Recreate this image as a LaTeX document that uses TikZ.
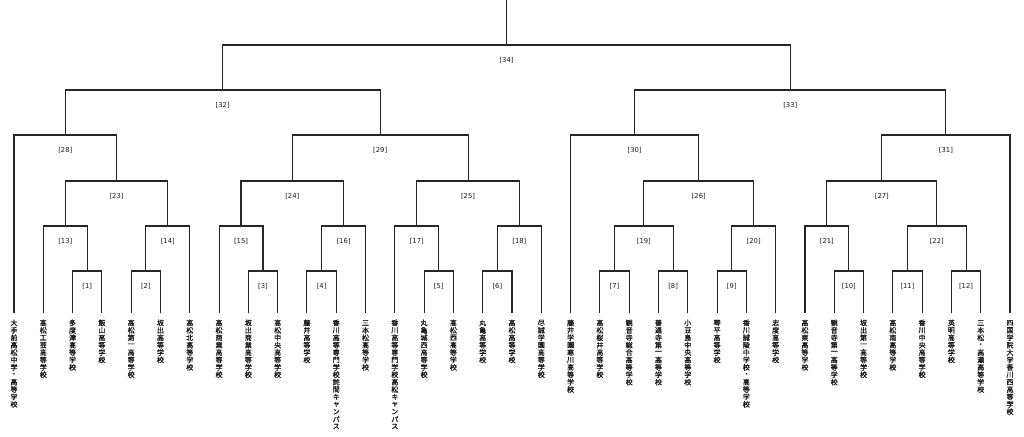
\documentclass[tikz,border=0pt]{standalone}
\usepackage{fontspec}
\usetikzlibrary{calc}
\newfontfamily\jpfont[FakeBold=1.2]{Noto Sans CJK JP}
\newfontfamily\latfont{DejaVu Sans}
\ExplSyntaxOn
\NewDocumentCommand\vtext{m}{
  \vbox{\offinterlineskip
    \tl_map_inline:nn {#1} {\hbox to 8pt{\hss\vbox to 7.4pt{\vss\hbox{##1}\vss}\hss}}
  }
}
\ExplSyntaxOff
\tikzset{
  bracketline/.style={draw=black!85, line width=1.1pt},
  team/.style={anchor=north, inner sep=0pt, text=black!90, font=\jpfont\fontsize{7}{7.4}\selectfont},
  lbl/.style={inner sep=0pt, text=black!90, font=\latfont\fontsize{6.8}{7}\selectfont}
}
\newcommand\leaf[2]{%
  \coordinate (p#1) at ({14+#1*29.294},-313);
  \node[team] (t#1) at ({14+#1*29.294},-319) {\vtext{#2}};
}
\newcommand\match[5]{%
  \path let \p1=(#2), \p2=(#3) in coordinate (#1) at ({(\x1+\x2)/2},-#4pt);
  \draw[bracketline] (#2) |- (#1) -| (#3);
  \node[lbl] (l#1) at ([yshift=-15pt]#1) {[#5]};
}
\begin{document}
\begin{tikzpicture}[x=1pt,y=1pt]
\useasboundingbox (0,0) rectangle (1024,-436);
\leaf{0}{大手前高松中学・高等学校}
\leaf{1}{高松工芸高等学校}
\leaf{2}{多度津高等学校}
\leaf{3}{飯山高等学校}
\leaf{4}{高松第一高等学校}
\leaf{5}{坂出高等学校}
\leaf{6}{高松北高等学校}
\leaf{7}{高松商業高等学校}
\leaf{8}{坂出商業高等学校}
\leaf{9}{高松中央高等学校}
\leaf{10}{藤井高等学校}
\leaf{11}{香川高等専門学校詫間キャンパス}
\leaf{12}{三本松高等学校}
\leaf{13}{香川高等専門学校高松キャンパス}
\leaf{14}{丸亀城西高等学校}
\leaf{15}{高松西高等学校}
\leaf{16}{丸亀高等学校}
\leaf{17}{高松高等学校}
\leaf{18}{尽誠学園高等学校}
\leaf{19}{藤井学園寒川高等学校}
\leaf{20}{高松桜井高等学校}
\leaf{21}{観音寺総合高等学校}
\leaf{22}{善通寺第一高等学校}
\leaf{23}{小豆島中央高等学校}
\leaf{24}{琴平高等学校}
\leaf{25}{香川誠陵中学校・高等学校}
\leaf{26}{志度高等学校}
\leaf{27}{高松東高等学校}
\leaf{28}{観音寺第一高等学校}
\leaf{29}{坂出第一高等学校}
\leaf{30}{高松南高等学校}
\leaf{31}{香川中央高等学校}
\leaf{32}{英明高等学校}
\leaf{33}{三本松・高瀬高等学校}
\leaf{34}{四国学院大学香川西高等学校}
% first round
\match{m1}{p2}{p3}{271}{1}
\match{m2}{p4}{p5}{271}{2}
\match{m3}{p8}{p9}{271}{3}
\match{m4}{p10}{p11}{271}{4}
\match{m5}{p14}{p15}{271}{5}
\match{m6}{p16}{p17}{271}{6}
\match{m7}{p20}{p21}{271}{7}
\match{m8}{p22}{p23}{271}{8}
\match{m9}{p24}{p25}{271}{9}
\match{m10}{p28}{p29}{271}{10}
\match{m11}{p30}{p31}{271}{11}
\match{m12}{p32}{p33}{271}{12}
% second round
\match{m13}{p1}{m1}{226}{13}
\match{m14}{m2}{p6}{226}{14}
\match{m15}{p7}{m3}{226}{15}
\match{m16}{m4}{p12}{226}{16}
\match{m17}{p13}{m5}{226}{17}
\match{m18}{m6}{p18}{226}{18}
\match{m19}{m7}{m8}{226}{19}
\match{m20}{m9}{p26}{226}{20}
\match{m21}{p27}{m10}{226}{21}
\match{m22}{m11}{m12}{226}{22}
% third round
\match{m23}{m13}{m14}{181}{23}
\match{m24}{m15}{m16}{181}{24}
\match{m25}{m17}{m18}{181}{25}
\match{m26}{m19}{m20}{181}{26}
\match{m27}{m21}{m22}{181}{27}
% quarterfinals
\match{m28}{p0}{m23}{135}{28}
\match{m29}{m24}{m25}{135}{29}
\match{m30}{p19}{m26}{135}{30}
\match{m31}{m27}{p34}{135}{31}
% semifinals
\match{m32}{m28}{m29}{90}{32}
\match{m33}{m30}{m31}{90}{33}
% final
\match{m34}{m32}{m33}{45}{34}
\coordinate (top) at (m34 |- 0,0);
\draw[bracketline] (m34) -- (top);
\end{tikzpicture}
\end{document}
